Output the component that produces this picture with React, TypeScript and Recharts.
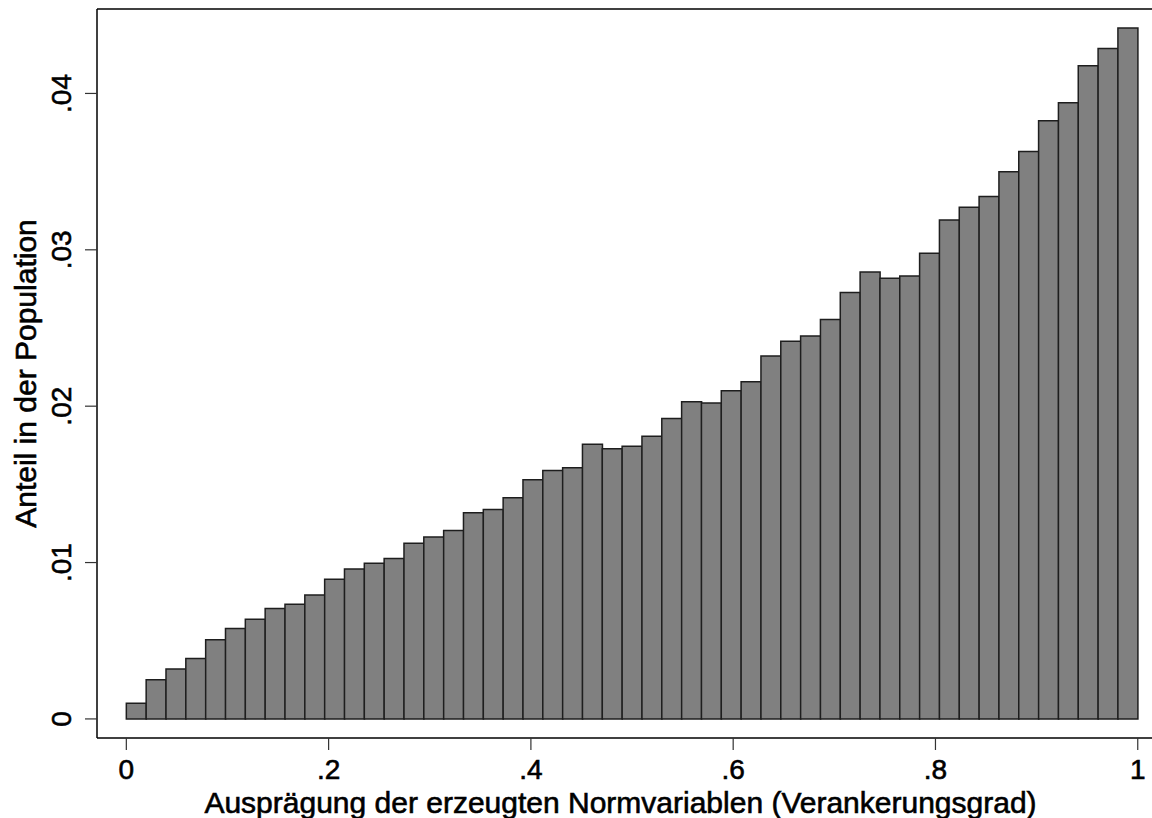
import React from 'react';
import { BarChart, Bar, XAxis, YAxis } from 'recharts';

// share of the population per bin (51 equal bins over 0..1)
const shares = [
  0.001, 0.0025, 0.0032, 0.00386, 0.00507, 0.00579, 0.00637, 0.00706, 0.00733, 0.00792,
  0.00894, 0.00958, 0.00996, 0.01026, 0.01124, 0.01163, 0.01205, 0.01318, 0.0134, 0.01414,
  0.0153, 0.01589, 0.01606, 0.01756, 0.01728, 0.01743, 0.01807, 0.01922, 0.02029, 0.0202,
  0.02099, 0.02157, 0.02321, 0.02415, 0.02449, 0.02554, 0.02727, 0.02858, 0.02818, 0.02833,
  0.02978, 0.0319, 0.03272, 0.03341, 0.03499, 0.03629, 0.03825, 0.0394, 0.04177, 0.04288,
  0.04418,
];
const binCount = shares.length;

const xTicks = [0, 0.2, 0.4, 0.6, 0.8, 1];
const yTicks = [0, 0.01, 0.02, 0.03, 0.04];
const xDomain = [-0.029, 1.022];
const yDomain = [-0.00122, 0.0454];

const xTitle = 'Ausprägung der erzeugten Normvariablen (Verankerungsgrad)';
const yTitle = 'Anteil in der Population';

const rows = shares.map((share, i) => ({ mid: (i + 0.5) / binCount, share }));

const FONT = '"Liberation Sans", Arial, sans-serif';
// the reference text is rendered a little heavier than plain regular
const heavy = { stroke: '#000', strokeWidth: 0.6 };

// Stata style: drop the leading zero (.2, .04)
const fmt = (v: number) => (v === 0 ? '0' : String(v).replace(/^0\./, '.'));

function YTick({ x, y, payload }: any) {
  return (
    <text
      x={x}
      y={y}
      transform={`rotate(-90, ${x}, ${y})`}
      textAnchor="middle"
      fontSize={28}
      fontFamily={FONT}
      fill="#000"
      {...heavy}
    >
      {fmt(payload.value)}
    </text>
  );
}

function XTitle({ viewBox }: any) {
  const cx = viewBox.x + viewBox.width / 2 - 8;
  return (
    <text x={cx} y={813} textAnchor="middle" fontSize={30} fontFamily={FONT} fill="#000" {...heavy}>
      {xTitle}
    </text>
  );
}

function YTitle({ viewBox }: any) {
  const cy = viewBox.y + viewBox.height / 2;
  return (
    <text
      x={36}
      y={cy}
      transform={`rotate(-90, 36, ${cy})`}
      textAnchor="middle"
      fontSize={30}
      fontFamily={FONT}
      fill="#000"
      {...heavy}
    >
      {yTitle}
    </text>
  );
}

export default function App() {
  return (
    <div
      style={{
        position: 'absolute',
        left: 0,
        top: 0,
        width: 1152,
        height: 818,
        overflow: 'hidden',
        background: '#fff',
      }}
    >
      <BarChart
        width={1160}
        height={818}
        data={rows}
        margin={{ top: 8, right: 0, bottom: 0, left: 0 }}
        barCategoryGap={0}
        barGap={0}
      >
        <XAxis
          dataKey="mid"
          type="number"
          domain={xDomain}
          allowDataOverflow
          ticks={xTicks}
          tickFormatter={fmt}
          height={80}
          tickSize={12}
          tickMargin={9}
          interval={0}
          axisLine={{ stroke: '#000', strokeWidth: 1.5 }}
          tickLine={{ stroke: '#333', strokeWidth: 1.2 }}
          tick={{ fontSize: 28, fontFamily: FONT, fill: '#000', ...heavy }}
          label={<XTitle />}
        />
        <XAxis
          xAxisId="top"
          dataKey="mid"
          orientation="top"
          type="number"
          domain={xDomain}
          allowDataOverflow
          height={1}
          tick={false}
          tickLine={false}
          axisLine={{ stroke: '#000', strokeWidth: 1.5 }}
        />
        <YAxis
          type="number"
          domain={yDomain}
          allowDataOverflow
          ticks={yTicks}
          width={97}
          tickSize={12}
          tickMargin={14}
          interval={0}
          axisLine={{ stroke: '#000', strokeWidth: 1.5 }}
          tickLine={{ stroke: '#333', strokeWidth: 1.2 }}
          tick={<YTick />}
          label={<YTitle />}
        />
        <Bar
          dataKey="share"
          fill="#808080"
          stroke="#1e1e1e"
          strokeWidth={1.5}
          isAnimationActive={false}
        />
      </BarChart>
    </div>
  );
}
